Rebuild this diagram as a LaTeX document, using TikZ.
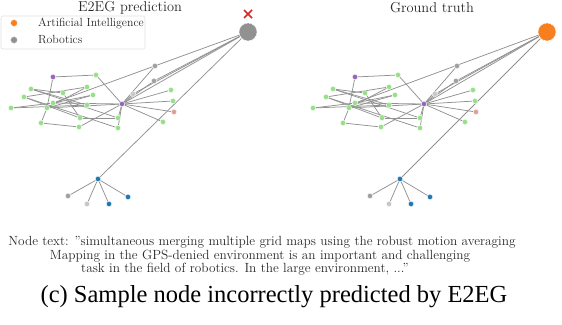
\documentclass[tikz,border=0pt]{standalone}
\usepackage{fontspec}
\newfontfamily\capfont{Liberation Serif}
\definecolor{edgec}{RGB}{145,145,145}
\definecolor{gfill}{RGB}{152,223,138}
\definecolor{pfill}{RGB}{148,103,189}
\definecolor{bfill}{RGB}{31,119,180}
\definecolor{rfill}{RGB}{220,160,150}
\definecolor{kfill}{RGB}{160,160,160}
\definecolor{lkfill}{RGB}{199,199,199}
\definecolor{ofill}{RGB}{247,127,30}
\definecolor{bigg}{RGB}{145,145,145}
\definecolor{crossc}{RGB}{214,39,40}
\definecolor{txtc}{RGB}{40,40,40}
\tikzset{
  gn/.style={circle,inner sep=0pt,minimum size=5.4pt,fill=#1,draw=white,line width=0.45pt,dash pattern=on 0.7pt off 0.5pt},
  bign/.style={circle,inner sep=0pt,minimum size=18pt,fill=#1,draw=white,line width=0.6pt,dash pattern=on 1pt off 0.7pt},
  edge/.style={draw=edgec,line width=0.75pt},
  lbl/.style={inner sep=0pt,text=txtc},
}
\newcommand\graphpanel[2]{%
  \node[bign=#1] (BIG) at (#2,32) {};
  \node[gn=pfill] (P1) at (53,77) {};
  \node[gn=gfill] (G1) at (96,75) {};
  \node[gn=gfill] (G2) at (31,89) {};
  \node[gn=gfill] (G3) at (24,97) {};
  \node[gn=gfill] (G4) at (63,93) {};
  \node[gn=gfill] (G5) at (87,87) {};
  \node[gn=gfill] (G6) at (93,95) {};
  \node[gn=gfill] (G7) at (11,108) {};
  \node[gn=gfill] (G8) at (47,108) {};
  \node[gn=gfill] (G9) at (53,103) {};
  \node[gn=gfill] (G10) at (87,105) {};
  \node[gn=pfill] (H) at (122,104) {};
  \node[gn=gfill] (G11) at (80,118) {};
  \node[gn=gfill] (G12) at (118,118) {};
  \node[gn=gfill] (G13) at (41,123) {};
  \node[gn=gfill] (G14) at (79,127) {};
  \node[gn=gfill] (G15) at (118,128) {};
  \node[gn=kfill] (A) at (155,66) {};
  \node[gn=kfill] (B) at (154,81) {};
  \node[gn=lkfill] (C) at (133,94) {};
  \node[gn=gfill] (G16) at (171,90) {};
  \node[gn=gfill] (G17) at (173,101) {};
  \node[gn=rfill] (R) at (174,112) {};
  \node[gn=gfill] (G18) at (163,122) {};
  \node[gn=bfill] (BH) at (98,179) {};
  \node[gn=kfill] (K1) at (68,196) {};
  \node[gn=lkfill] (K2) at (87,204) {};
  \node[gn=bfill] (K3) at (109,204) {};
  \node[gn=bfill] (K4) at (128,197) {};
  \begin{scope}[on background layer]
    \foreach \a/\b in {BIG/G9,BIG/B,BIG/C,BIG/H,BIG/BH,A/H,B/H,C/H,
      P1/G1,P1/G8,G8/G13,G1/H,G2/G4,G2/G10,G2/G12,G3/G5,G3/G11,G3/G15,
      G7/G9,G7/G10,G8/G6,G8/G5,G9/H,G9/G6,G4/G11,G13/G14,G14/H,G11/G12,
      G12/H,G15/H,G8/H,H/G16,H/G17,H/R,H/G18,BH/K1,BH/K2,BH/K3,BH/K4}
      \draw[edge] (\a) -- (\b);
  \end{scope}
}
\usetikzlibrary{backgrounds}
\begin{document}
\begin{tikzpicture}[x=1pt,y=-1pt]
\useasboundingbox (0,0) rectangle (562,324);
\begin{scope}[name prefix=L-]
  \graphpanel{bigg}{248}
\end{scope}
\begin{scope}[shift={(302,0)},name prefix=R-]
  \graphpanel{ofill}{245}
\end{scope}
\coordinate (xc) at (248,14);
\draw[crossc,line width=1.6pt] ([shift={(-4,-4)}]xc) -- ([shift={(4,4)}]xc)
  ([shift={(-4,4)}]xc) -- ([shift={(4,-4)}]xc);
\node[lbl,font=\fontsize{14.4}{16}\selectfont] (t1) at (130,7.5) {E2EG prediction};
\node[lbl,font=\fontsize{14.4}{16}\selectfont] (t2) at (432,7.5) {Ground truth};
% legend
\node[draw=black!12,fill=white,rounded corners=2pt,line width=0.6pt,minimum width=144pt,minimum height=33pt,inner sep=0pt] (leg) at (73,32.5) {};
\node[bign=ofill,minimum size=7pt] (m1) at (14,23) {};
\node[bign=bigg,minimum size=7pt] (m2) at (14,40) {};
\node[lbl,anchor=west,font=\fontsize{11.8}{13}\selectfont] (l1) at (38,23) {Artificial Intelligence};
\node[lbl,anchor=west,font=\fontsize{11.8}{13}\selectfont] (l2) at (38,40) {Robotics};
% caption
\node[lbl,font=\fontsize{13.3}{15}\selectfont] (c1) at (262,242) {Node text: ”simultaneous merging multiple grid maps using the robust motion averaging};
\node[lbl,font=\fontsize{13.3}{15}\selectfont] (c2) at (260,256) {Mapping in the GPS-denied environment is an important and challenging};
\node[lbl,font=\fontsize{13.3}{15}\selectfont] (c3) at (245,269.5) {task in the field of robotics. In the large environment, ...”};
\node[inner sep=0pt,font=\capfont\fontsize{24.5}{28}\selectfont] (cap) at (274,297) {(c) Sample node incorrectly predicted by E2EG};
\end{tikzpicture}
\end{document}
